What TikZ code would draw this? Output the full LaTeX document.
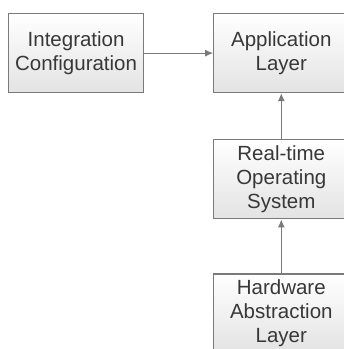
\documentclass[tikz,border=0pt]{standalone}
\usepackage{fontspec}
\setmainfont{Liberation Sans}
\usetikzlibrary{positioning}
\usetikzlibrary{arrows.meta}
\definecolor{boxline}{HTML}{7A7A7A}
\definecolor{boxtext}{HTML}{383838}
\tikzset{layer/.style={draw=boxline, line width=1.2pt, top color=white, bottom color=black!11,
  minimum width=135pt, minimum height=79pt, inner sep=0pt, align=center,
  text=boxtext, font=\fontsize{20.5}{24}\selectfont, node distance=69pt},
  link/.style={draw=boxline, line width=1.2pt, -{Latex[length=8pt,width=7pt]}}}

\begin{document}
\begin{tikzpicture}[x=1pt,y=-1pt]
\useasboundingbox (0,0) rectangle (344,349);

% Define nodes
\node[layer, anchor=north west]   (ic)  at (8,13) {Integration\\Configuration};
\node[layer, right = of ic]        (app) {Application\\Layer};
\node[layer, below = 46pt of app]  (rtos) {Real-time\\Operating\\System};
\node[layer, below = 54pt of rtos] (hal) {Hardware\\Abstraction\\Layer};

% Edges
\draw[link] (ic)   -- (app);
\draw[link] (rtos) -- (app);
\draw[link] (hal)  -- (rtos);
\end{tikzpicture}
\end{document}
